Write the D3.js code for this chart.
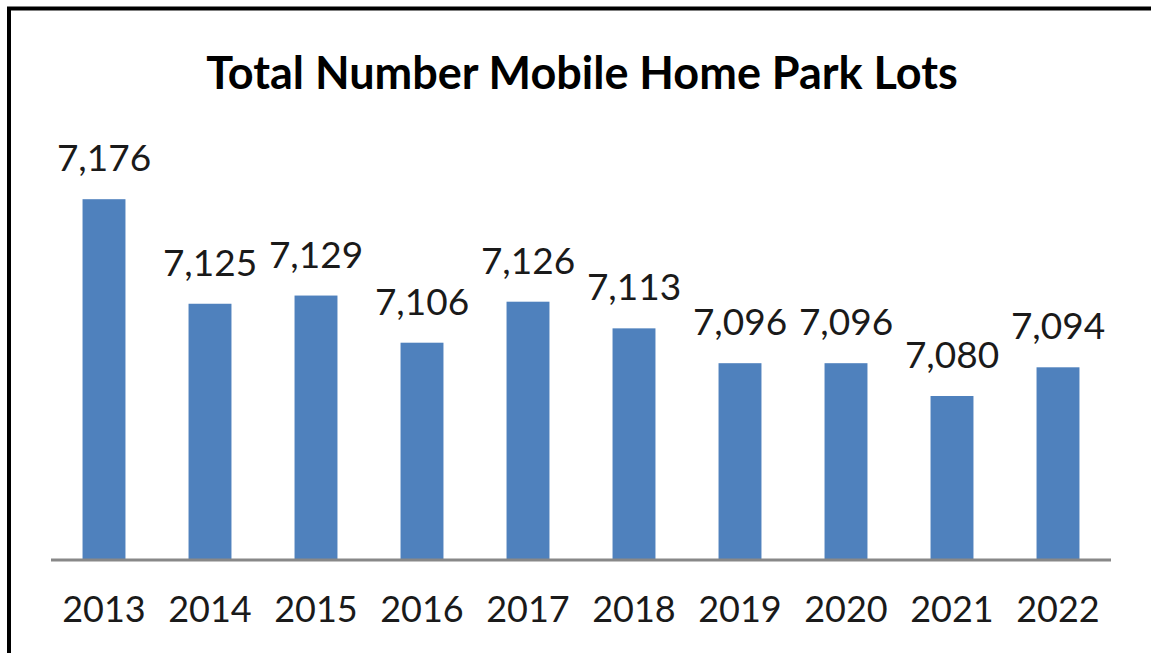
<!DOCTYPE html>
<html>
<head>
<meta charset="utf-8">
<script src="https://cdn.jsdelivr.net/npm/d3@7"></script>
<style>
	body { margin: 0; background: #fff; }
	text { font-family: Lato, "Open Sans", sans-serif; }
</style>
</head>
<body>
<div id="chart"></div>
<script>
// data
var years = ["2013", "2014", "2015", "2016", "2017", "2018", "2019", "2020", "2021", "2022"];
var lots = [7176, 7125, 7129, 7106, 7126, 7113, 7096, 7096, 7080, 7094];
var chartTitle = "Total Number Mobile Home Park Lots";

var width = 1151, height = 653;
var plot = { left: 51, right: 1111, top: 150, bottom: 560 };

var svg = d3.select("#chart")
  .append("svg")
	.attr("width", width)
	.attr("height", height);

svg.append("rect")
	.attr("width", width)
	.attr("height", height)
	.style("fill", "#fff");

// outer frame (top and left edges only show)
svg.append("line")
	.attr("x1", 7).attr("x2", width)
	.attr("y1", 8.5).attr("y2", 8.5)
	.style("stroke", "#000").style("stroke-width", 4);
svg.append("line")
	.attr("x1", 9).attr("x2", 9)
	.attr("y1", 7).attr("y2", height)
	.style("stroke", "#000").style("stroke-width", 4);

// title
svg.append("text")
	.attr("x", 582)
	.attr("y", 89)
	.attr("text-anchor", "middle")
	.style("font-weight", "bold")
	.style("font-size", "45px")
	.style("fill", "#000")
	.text(chartTitle);

var x = d3.scaleBand()
	.domain(years)
	.range([plot.left, plot.right])
	.paddingInner(0.595)
	.paddingOuter(0.2975);

var y = d3.scaleLinear()
	.domain([7000, 7200])
	.range([plot.bottom, plot.top]);

var data = years.map(function(d, i) { return { year: d, value: lots[i] }; });

svg.selectAll(".bar")
	.data(data)
  .enter().append("rect")
	.attr("class", "bar")
	.attr("x", function(d) { return x(d.year); })
	.attr("y", function(d) { return y(d.value); })
	.attr("width", x.bandwidth())
	.attr("height", function(d) { return y(7000) - y(d.value); })
	.style("fill", "#4F81BD");

// value labels
var fmt = d3.format(",");
svg.selectAll(".label")
	.data(data)
  .enter().append("text")
	.attr("class", "label")
	.attr("x", function(d) { return x(d.year) + x.bandwidth() / 2; })
	.attr("y", function(d) { return y(d.value) - 28; })
	.attr("text-anchor", "middle")
	.style("font-size", "37px")
	.style("fill", "#1a1a1a")
	.text(function(d) { return fmt(d.value); });

// x axis
var xAxis = d3.axisBottom(x).tickSize(0).tickPadding(36);
var gx = svg.append("g")
	.attr("transform", "translate(0," + plot.bottom + ")")
	.call(xAxis);
gx.select(".domain")
	.attr("d", "M" + plot.left + ",0H" + plot.right)
	.style("stroke", "#888")
	.style("stroke-width", 3);
gx.selectAll("text")
	.style("font-family", "Lato, 'Open Sans', sans-serif")
	.style("font-size", "36px")
	.style("fill", "#1a1a1a");
</script>
</body>
</html>
